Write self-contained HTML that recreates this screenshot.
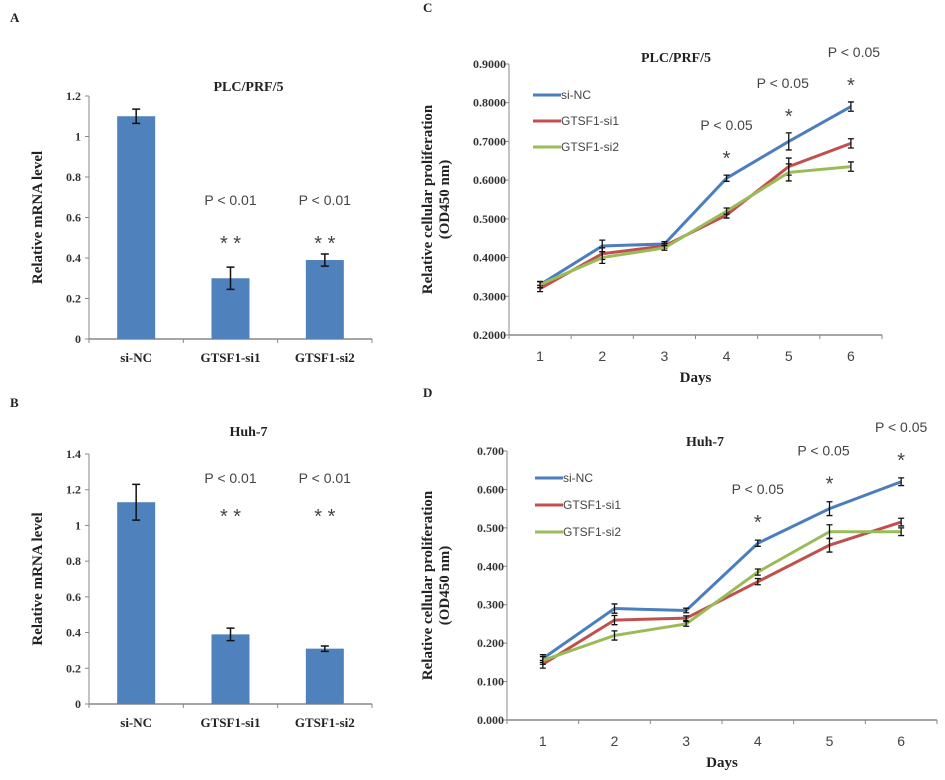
<!DOCTYPE html>
<html><head><meta charset="utf-8">
<style>
body{margin:0;background:#fff;}
svg{display:block;font-family:"Liberation Serif",serif;}
.tk{font-size:12px;font-weight:bold;fill:#333;}
.lab{font-size:15px;font-weight:bold;fill:#222;}
.ttl{font-size:14px;font-weight:bold;fill:#222;}
.p{font-family:"Liberation Sans",sans-serif;font-size:14px;fill:#444;}
.st{font-family:"Liberation Sans",sans-serif;font-size:20px;fill:#444;}
.lg{font-family:"Liberation Sans",sans-serif;font-size:12px;fill:#444;}
.pl{font-size:13px;font-weight:bold;fill:#222;}
</style></head><body>
<svg id="fig" width="945" height="780" viewBox="0 0 945 780"></svg>
<script>
// Panel A data
const barCats = ["si-NC","GTSF1-si1","GTSF1-si2"];
const barA = [1.10,0.30,0.39];
const errA = [0.035,0.055,0.03];
const ticksA = [0,0.2,0.4,0.6,0.8,1,1.2];
// Panel B data
const barB = [1.13,0.39,0.31];
const errB = [0.10,0.035,0.015];
const ticksB = [0,0.2,0.4,0.6,0.8,1,1.2,1.4];
// Panel C data
const days = ["1","2","3","4","5","6"];
const seriesNames = ["si-NC","GTSF1-si1","GTSF1-si2"];
const cNC = [0.330,0.430,0.435,0.605,0.700,0.790];
const cSi1 = [0.320,0.410,0.430,0.510,0.635,0.695];
const cSi2 = [0.330,0.400,0.425,0.520,0.620,0.635];
const cErr = [0.008,0.015,0.006,0.008,0.022,0.012];
const ticksC = [0.2,0.3,0.4,0.5,0.6,0.7,0.8,0.9];
// Panel D data
const dNC = [0.160,0.290,0.285,0.460,0.550,0.620];
const dSi1 = [0.145,0.260,0.265,0.360,0.455,0.515];
const dSi2 = [0.155,0.220,0.250,0.385,0.490,0.490];
const dErr = [0.010,0.012,0.006,0.008,0.018,0.010];
const ticksD = [0,0.1,0.2,0.3,0.4,0.5,0.6,0.7];
const colors = ["#4a7ebf","#c0504d","#9bbb59"];

const svg = document.getElementById('fig');
const NS = "http://www.w3.org/2000/svg";
function mk(tag, attrs, parent){const e=document.createElementNS(NS,tag);for(const k in attrs)e.setAttribute(k,attrs[k]);(parent||svg).appendChild(e);return e;}
function txt(x,y,s,cls,anchor,parent){const t=mk('text',{x:x,y:y,class:cls,'text-anchor':anchor||'middle'},parent);t.textContent=s;return t;}

function barPanel(cfg){
  const g=mk('g',{});
  
  
  const y=v=>cfg.y0-(v-cfg.min)/(cfg.max-cfg.min)*(cfg.y0-cfg.y1);
  const bw=(cfg.x1-cfg.x0)/barCats.length;
  const x=i=>cfg.x0+bw*(i+0.5);
  mk('line',{x1:cfg.x0,y1:cfg.y0,x2:cfg.x0,y2:cfg.y1,stroke:'#888','stroke-width':1},g);
  mk('line',{x1:cfg.x0,y1:cfg.y0,x2:cfg.x1,y2:cfg.y0,stroke:'#888','stroke-width':1.5},g);
  cfg.ticks.forEach(v=>{mk('line',{x1:cfg.x0-4,y1:y(v),x2:cfg.x0,y2:y(v),stroke:'#888'},g);
    const t=txt(cfg.x0-8,y(v)+4,String(v),'tk','end',g);});
  for(let i=0;i<=barCats.length;i++)mk('line',{x1:cfg.x0+bw*i,y1:cfg.y0,x2:cfg.x0+bw*i,y2:cfg.y0+4,stroke:'#888'},g);
  barCats.forEach((c,i)=>{
    const r=mk('rect',{x:x(i)-19,y:y(cfg.vals[i]),width:38,height:cfg.y0-y(cfg.vals[i]),fill:'#4f81bd'},g);
    
    
    const e1=y(cfg.vals[i]+cfg.err[i]),e2=y(cfg.vals[i]-cfg.err[i]);
    mk('path',{d:`M${x(i)},${e1}V${e2}M${x(i)-4},${e1}H${x(i)+4}M${x(i)-4},${e2}H${x(i)+4}`,stroke:'#111','stroke-width':1.5,fill:'none'},g);
    const l=txt(x(i),cfg.y0+23,c,'pl','middle',g);
    if(i>0){txt(x(i),cfg.pY,'P < 0.01','p','middle',g);
      txt(x(i),cfg.sY,'* *','st','middle',g);}
  });
  const tt=txt((cfg.x0+cfg.x1)/2+18,cfg.titleY,cfg.title,'ttl','middle',g);
  const yl=txt(0,0,'Relative mRNA  level','lab','middle',g);
  yl.setAttribute('transform',`translate(42,${(cfg.y0+cfg.y1)/2}) rotate(-90)`);
  
}

function linePanel(cfg){
  const g=mk('g',{});
  
  
  const y=v=>cfg.y0-(v-cfg.min)/(cfg.max-cfg.min)*(cfg.y0-cfg.y1);
  const bw=(cfg.x1-cfg.x0)/days.length;
  const x=i=>cfg.x0+bw*(i+0.5);
  mk('line',{x1:cfg.x0,y1:cfg.y0,x2:cfg.x0,y2:cfg.y1,stroke:'#888'},g);
  mk('line',{x1:cfg.x0,y1:cfg.y0,x2:cfg.x1,y2:cfg.y0,stroke:'#888','stroke-width':1.5},g);
  cfg.ticks.forEach(v=>{mk('line',{x1:cfg.x0-4,y1:y(v),x2:cfg.x0,y2:y(v),stroke:'#888'},g);
    const t=txt(cfg.x0-3,y(v)+4,v.toFixed(cfg.dec),'tk','end',g);});
  for(let i=0;i<=days.length;i++)mk('line',{x1:cfg.x0+bw*i,y1:cfg.y0,x2:cfg.x0+bw*i,y2:cfg.y0+4,stroke:'#888'},g);
  days.forEach((d,i)=>{const t=txt(x(i),cfg.y0+26,d,'p','middle',g);});
  const dl=txt((cfg.x0+cfg.x1)/2,cfg.y0+47,'Days','lab','middle',g);
  cfg.series.forEach((s,k)=>{
    const pl=mk('polyline',{points:s.map((v,i)=>x(i)+','+y(v)).join(' '),fill:'none',stroke:colors[k],'stroke-width':3},g);
    
    
    s.forEach((v,i)=>{const e1=y(v+cfg.err[i]),e2=y(v-cfg.err[i]);
      mk('path',{d:`M${x(i)},${e1}V${e2}M${x(i)-3},${e1}H${x(i)+3}M${x(i)-3},${e2}H${x(i)+3}`,stroke:'#111','stroke-width':1.3,fill:'none'},g);});
    const ly=cfg.legY+k*cfg.legGap;
    const lg=mk('g',{},g);
    
    
    mk('line',{x1:cfg.legX,y1:ly,x2:cfg.legX+28,y2:ly,stroke:colors[k],'stroke-width':3},lg);
    txt(cfg.legX+28,ly+4,seriesNames[k],'lg','start',lg);
  });
  [3,4,5].forEach((i,j)=>{const top=y(cfg.series[0][i]+cfg.err[i]);
    txt(x(i)+cfg.pdx[j],top-cfg.pOff,'P < 0.05','p','middle',g);
    txt(x(i),top-cfg.sOff,'*','st','middle',g);});
  const tt=txt(cfg.titleX,cfg.titleY,cfg.title,'ttl','middle',g);
  const yl=mk('text',{class:'lab','text-anchor':'middle',transform:`translate(${cfg.yLabX},${(cfg.y0+cfg.y1)/2}) rotate(-90)`},g);
  
  const a=mk('tspan',{x:0,dy:0},yl);a.textContent='Relative cellular proliferation';
  const b=mk('tspan',{x:0,dy:17},yl);b.textContent='(OD450 nm)';
}

barPanel({name:'panel-a-chart',x0:89,x1:372,y0:339,y1:96,min:0,max:1.2,ticks:ticksA,vals:barA,err:errA,title:'PLC/PRF/5',titleY:91,pY:205,sY:250});
barPanel({name:'panel-b-chart',x0:89,x1:372,y0:704,y1:454,min:0,max:1.4,ticks:ticksB,vals:barB,err:errB,title:'Huh-7',titleY:436,pY:483,sY:523});
linePanel({name:'panel-c-chart',x0:509,x1:882,y0:335,y1:64,min:0.2,max:0.9,dec:4,ticks:ticksC,series:[cNC,cSi1,cSi2],err:cErr,title:'PLC/PRF/5',titleX:676,titleY:62,legX:533,legY:95,legGap:26,yLabX:432,pOff:45,sOff:10,pdx:[0,-6,3]});
linePanel({name:'panel-d-chart',x0:507,x1:937,y0:720,y1:451,min:0,max:0.7,dec:3,ticks:ticksD,series:[dNC,dSi1,dSi2],err:dErr,title:'Huh-7',titleX:705,titleY:446,legX:535,legY:478,legGap:27,yLabX:432,pOff:46,sOff:11,pdx:[0,-6,0]});

[['A',10,22],['B',10,407],['C',423,12],['D',423,397]].forEach(p=>{const t=txt(p[1],p[2],p[0],'pl','start');
  
  });
</script>
</body></html>
